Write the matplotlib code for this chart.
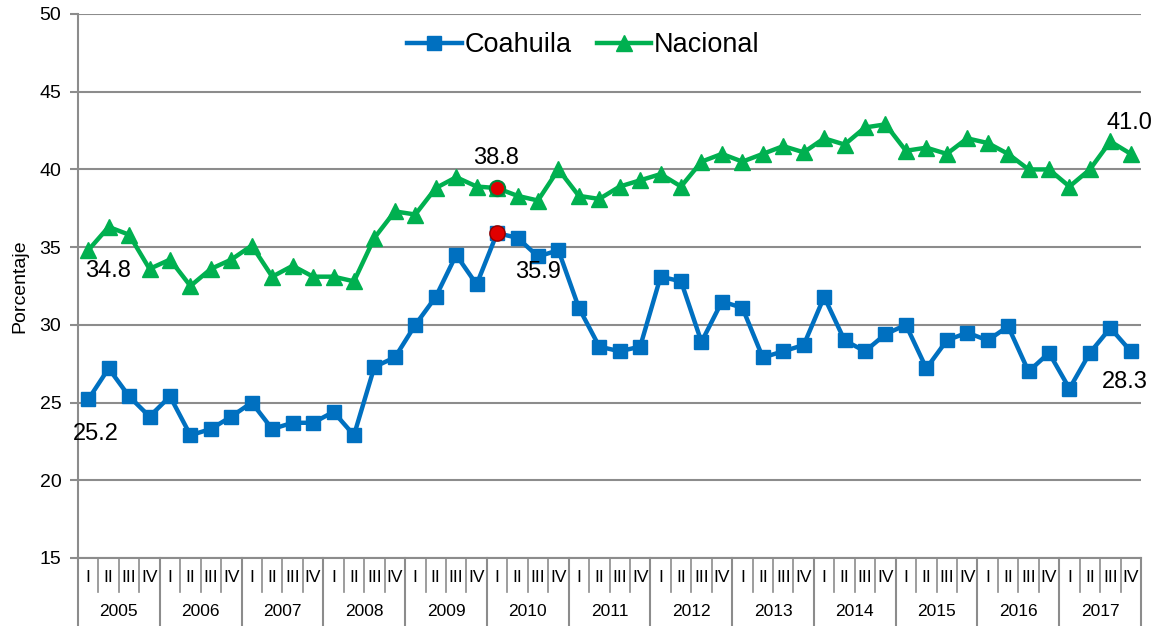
import numpy as np
import matplotlib.pyplot as plt

plt.rcParams["font.family"] = ["Liberation Sans", "DejaVu Sans"]

years = [str(y) for y in range(2005, 2018)]
quarters = ["I", "II", "III", "IV"]

coahuila = [25.2, 27.2, 25.4, 24.1,
            25.4, 22.9, 23.3, 24.1,
            25.0, 23.3, 23.7, 23.7,
            24.4, 22.9, 27.3, 27.9,
            30.0, 31.8, 34.5, 32.6,
            35.9, 35.6, 34.4, 34.8,
            31.1, 28.6, 28.3, 28.6,
            33.1, 32.8, 28.9, 31.5,
            31.1, 27.9, 28.3, 28.7,
            31.8, 29.0, 28.3, 29.4,
            30.0, 27.2, 29.0, 29.5,
            29.0, 29.9, 27.0, 28.2,
            25.9, 28.2, 29.8, 28.3]

nacional = [34.8, 36.3, 35.8, 33.6,
            34.2, 32.5, 33.6, 34.2,
            35.1, 33.1, 33.8, 33.1,
            33.1, 32.8, 35.6, 37.3,
            37.1, 38.8, 39.5, 38.9,
            38.8, 38.3, 38.0, 40.0,
            38.3, 38.1, 38.9, 39.3,
            39.7, 38.9, 40.5, 41.0,
            40.5, 41.0, 41.5, 41.1,
            42.0, 41.6, 42.7, 42.9,
            41.2, 41.4, 41.0, 42.0,
            41.7, 41.0, 40.0, 40.0,
            38.9, 40.0, 41.8, 41.0]

highlight_idx = 20  # 2010 I

blue = "#0070C0"
green = "#00B050"
grid_gray = "#8c8c8c"

x = np.arange(len(coahuila))

fig = plt.figure(figsize=(11.59, 6.26), dpi=100)
ax = fig.add_axes([78 / 1159, 68 / 626, 1063 / 1159, 544 / 626])

ax.plot(x, coahuila, color=blue, lw=3.2, marker="s", markersize=10,
        label="Coahuila", zorder=3)
ax.plot(x, nacional, color=green, lw=3.2, marker="^", markersize=11,
        label="Nacional", zorder=3)

# highlighted points
ax.plot(x[highlight_idx], coahuila[highlight_idx], "o", color="#e00000",
        markeredgecolor="#900000", markersize=11, zorder=4)
ax.plot(x[highlight_idx], nacional[highlight_idx], "o", color="#e00000",
        markeredgecolor="#008a3c", markeredgewidth=1.5, markersize=11, zorder=4)

# value labels
fs = 17
ax.annotate(f"{coahuila[0]:.1f}", (x[0], coahuila[0]), xytext=(-11, -25),
            textcoords="offset points", fontsize=fs, ha="left", va="center")
ax.annotate(f"{nacional[0]:.1f}", (x[0], nacional[0]), xytext=(-2, -15),
            textcoords="offset points", fontsize=fs, ha="left", va="center")
ax.annotate(f"{nacional[highlight_idx]:.1f}", (x[highlight_idx], nacional[highlight_idx]),
            xytext=(-1, 22), textcoords="offset points", fontsize=fs, ha="center", va="center")
ax.annotate(f"{coahuila[highlight_idx]:.1f}", (x[highlight_idx], coahuila[highlight_idx]),
            xytext=(13, -28), textcoords="offset points", fontsize=fs, ha="left", va="center")
ax.annotate(f"{nacional[-1]:.1f}", (x[-1], nacional[-1]), xytext=(-1, 22),
            textcoords="offset points", fontsize=fs, ha="center", va="center")
ax.annotate(f"{coahuila[-1]:.1f}", (x[-1], coahuila[-1]), xytext=(-4, -22),
            textcoords="offset points", fontsize=fs, ha="center", va="center")

ax.set_xlim(-0.5, len(x) - 0.5)
ax.set_ylim(15, 50)
ax.set_yticks(range(15, 51, 5))
ax.yaxis.grid(True, color=grid_gray, lw=1.5)
ax.set_axisbelow(True)
ax.tick_params(axis="y", labelsize=14, length=6, width=1.5, color=grid_gray, pad=6)
ax.set_ylabel("Porcentaje", fontsize=14, labelpad=8)

for side in ["top", "right"]:
    ax.spines[side].set_visible(False)
for side in ["left", "bottom"]:
    ax.spines[side].set_color(grid_gray)
    ax.spines[side].set_linewidth(1.5)

# two-level category axis
ax.set_xticks([])
trans = ax.get_xaxis_transform()
px = 1 / 544
for i in range(len(x) + 1):
    if i % 4 == 0:
        ax.plot([i - 0.5, i - 0.5], [0, -68 * px], color=grid_gray, lw=1.5,
                transform=trans, clip_on=False)
    else:
        ax.plot([i - 0.5, i - 0.5], [0, -34 * px], color=grid_gray, lw=1.2,
                transform=trans, clip_on=False)
for i in range(len(x)):
    ax.text(i, -20 * px, quarters[i % 4], transform=trans, ha="center",
            va="center", fontsize=12.5)
for k, yr in enumerate(years):
    ax.text(4 * k + 1.5, -54 * px, yr, transform=trans, ha="center",
            va="center", fontsize=12.5)

ax.legend(loc="upper center", bbox_to_anchor=(0.4755, 1.011), ncol=2, frameon=False,
          fontsize=19.5, handlelength=2.0, handletextpad=0.1, columnspacing=0.95)

fig.savefig("out.png", dpi=100)
